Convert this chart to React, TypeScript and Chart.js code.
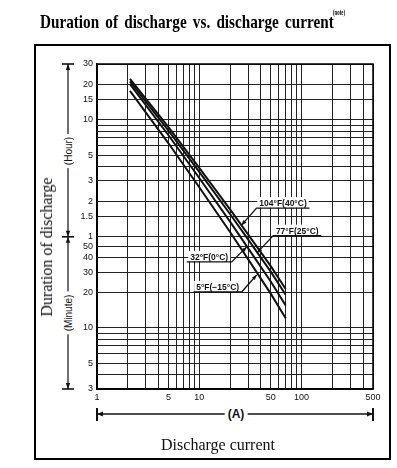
import { useEffect, useRef } from 'react';
import { Chart, registerables } from 'chart.js';

Chart.register(...registerables);

// ---- data (current in A, duration in minutes) ----
const currents = [2.1, 5, 10, 20, 30, 50, 70];
const t104F = [1340, 520, 233, 103, 63, 33.7, 21.5];
const t77F = [1280, 485, 215, 94, 57, 30.2, 19.2];
const t32F = [1210, 443, 191, 81, 48, 24.9, 15.5];
const t5F = [1060, 378, 159, 66, 38.7, 19.6, 12.1];

const seriesNames = ['104°F(40°C)', '77°F(25°C)', '32°F(0°C)', '5°F(−15°C)'];
const seriesValues = [t104F, t77F, t32F, t5F];

// grid / tick values
const xGridValues = [1, 2, 3, 4, 5, 6, 7, 8, 9, 10, 20, 30, 40, 50, 60, 70, 80, 90, 100, 200, 300, 400, 500];
const xTickLabels: Record<number, string> = { 1: '1', 5: '5', 10: '10', 50: '50', 100: '100', 500: '500' };
const yGridMinutes = [3, 4, 5, 6, 7, 8, 9, 10, 20, 30, 40, 50, 60, 90, 120, 180, 240, 300, 360, 420, 480, 540, 600, 900, 1200, 1800];
const yTickLabels: Record<number, string> = {
  3: '3', 5: '5', 10: '10', 20: '20', 30: '30', 40: '40', 50: '50',
  60: '1', 90: '1.5', 120: '2', 180: '3', 300: '5', 600: '10', 900: '15', 1200: '20', 1800: '30',
};
const hourBoundaryMinutes = 60;

// where each label's leader arrow touches its curve (current A, minutes)
const labelTipCurrent = [25.9, 36.9, 29.1, 36.4];
const labelTipMinutes = [75.5, 43.9, 49.2, 28.3];

// label geometry (pixels, relative to the arrow tip)
const labelLayout = [
  { dx: 15, dy: -17, len: 53, dir: 1 },
  { dx: 16, dy: -17, len: 48, dir: 1 },
  { dx: -15, dy: 15, len: 45, dir: -1 },
  { dx: -15, dy: 17, len: 48, dir: -1 },
];

function arrowHead(ctx: CanvasRenderingContext2D, fx: number, fy: number, tx: number, ty: number, len: number, half: number) {
  const a = Math.atan2(ty - fy, tx - fx);
  const c = Math.cos(a), s = Math.sin(a);
  ctx.beginPath();
  ctx.moveTo(tx, ty);
  ctx.lineTo(tx - len * c + half * s, ty - len * s - half * c);
  ctx.lineTo(tx - len * c - half * s, ty - len * s + half * c);
  ctx.closePath();
  ctx.fill();
}

const decorPlugin = {
  id: 'decor',
  afterDatasetsDraw(chart: any) {
    const { ctx, chartArea: ca, scales } = chart;
    const xs = scales.x, ys = scales.y;
    ctx.save();
    // plot border
    ctx.strokeStyle = '#000';
    ctx.lineWidth = 1.5;
    ctx.strokeRect(ca.left, ca.top, ca.right - ca.left, ca.bottom - ca.top);

    // temperature labels
    ctx.font = 'bold 8.5px "Liberation Sans", Arial, sans-serif';
    labelLayout.forEach((L, i) => {
      const tx = xs.getPixelForValue(labelTipCurrent[i]);
      const ty = ys.getPixelForValue(labelTipMinutes[i]);
      const ex = tx + L.dx, ey = ty + L.dy;
      const x2 = ex + L.dir * L.len;
      const cx = (ex + x2) / 2;
      const w = ctx.measureText(seriesNames[i]).width;
      ctx.fillStyle = '#fff';
      ctx.fillRect(cx - w / 2 - 2, ey - 11, w + 4, 10.5);
      ctx.fillStyle = '#111';
      ctx.textAlign = 'center';
      ctx.textBaseline = 'alphabetic';
      ctx.fillText(seriesNames[i], cx, ey - 2);
      ctx.strokeStyle = '#111';
      ctx.lineWidth = 1.3;
      ctx.beginPath();
      ctx.moveTo(x2, ey);
      ctx.lineTo(ex, ey);
      ctx.lineTo(tx, ty);
      ctx.stroke();
      arrowHead(ctx, ex, ey, tx, ty, 5, 2);
    });
    ctx.restore();
  },
  afterDraw(chart: any) {
    const { ctx, chartArea: ca, scales } = chart;
    const ys = scales.y;
    ctx.save();
    ctx.strokeStyle = '#111';
    ctx.fillStyle = '#111';
    // vertical Hour / Minute arrows
    const ax = ca.left - 29;
    const yMid = ys.getPixelForValue(hourBoundaryMinutes);
    ctx.lineWidth = 1.2;
    ctx.beginPath();
    ctx.moveTo(ax, ca.top);
    ctx.lineTo(ax, ca.bottom);
    ctx.stroke();
    ctx.lineWidth = 1.6;
    [ca.top, yMid, ca.bottom].forEach((yy: number) => {
      ctx.beginPath();
      ctx.moveTo(ax - 6, yy);
      ctx.lineTo(ax + 6, yy);
      ctx.stroke();
    });
    arrowHead(ctx, ax, ca.top + 10, ax, ca.top, 6, 2.2);
    arrowHead(ctx, ax, yMid - 10, ax, yMid, 6, 2.2);
    arrowHead(ctx, ax, yMid + 10, ax, yMid, 6, 2.2);
    arrowHead(ctx, ax, ca.bottom - 10, ax, ca.bottom, 6, 2.2);

    // horizontal (A) arrow
    const hy = ca.bottom + 25;
    ctx.lineWidth = 1.5;
    ctx.beginPath();
    ctx.moveTo(ca.left, hy);
    ctx.lineTo(ca.right, hy);
    ctx.stroke();
    ctx.lineWidth = 2;
    [ca.left, ca.right].forEach((xx: number) => {
      ctx.beginPath();
      ctx.moveTo(xx, hy - 6);
      ctx.lineTo(xx, hy + 7);
      ctx.stroke();
    });
    arrowHead(ctx, ca.left + 10, hy, ca.left, hy, 6, 2.5);
    arrowHead(ctx, ca.right - 10, hy, ca.right, hy, 6, 2.5);
    ctx.restore();
  },
};

const tickFont = { family: '"Liberation Sans", Arial, sans-serif', size: 9 };

export default function App() {
  const ref = useRef<HTMLCanvasElement>(null);

  useEffect(() => {
    const chart = new Chart(ref.current as HTMLCanvasElement, {
      type: 'line',
      data: {
        datasets: seriesValues.map((vals, i) => ({
          label: seriesNames[i],
          data: currents.map((c, j) => ({ x: c, y: vals[j] })),
          borderColor: '#111',
          borderWidth: 2,
          pointRadius: 0,
          tension: 0,
          fill: false,
        })),
      },
      options: {
        responsive: false,
        animation: false,
        devicePixelRatio: 1,
        layout: { autoPadding: false, padding: { left: 67, top: 64, right: 24, bottom: 63 } },
        plugins: { legend: { display: false }, tooltip: { enabled: false }, title: { display: false } },
        scales: {
          x: {
            type: 'logarithmic',
            min: 1,
            max: 500,
            afterBuildTicks: (scale: any) => {
              scale.ticks = xGridValues.map((v) => ({ value: v }));
            },
            afterFit: (scale: any) => {
              scale.height = 16;
              scale.paddingLeft = 0;
              scale.paddingRight = 0;
            },
            grid: { color: '#222', lineWidth: 1, drawTicks: false },
            border: { display: true, color: '#000', width: 1.5 },
            ticks: {
              autoSkip: false,
              maxRotation: 0,
              padding: 3,
              color: '#111',
              font: tickFont,
              callback: (v: any) => xTickLabels[Number(v)] ?? '',
            },
          },
          y: {
            type: 'logarithmic',
            min: 3,
            max: 1800,
            afterBuildTicks: (scale: any) => {
              scale.ticks = yGridMinutes.map((v) => ({ value: v }));
            },
            afterFit: (scale: any) => {
              scale.width = 30;
              scale.paddingTop = 0;
              scale.paddingBottom = 0;
            },
            grid: { color: '#222', lineWidth: 1, drawTicks: false },
            border: { display: true, color: '#000', width: 1.5 },
            ticks: {
              autoSkip: false,
              padding: 4,
              color: '#111',
              font: tickFont,
              callback: (v: any) => yTickLabels[Number(v)] ?? '',
            },
          },
        },
      },
      plugins: [decorPlugin],
    } as any);
    return () => chart.destroy();
  }, []);

  const serif = '"Liberation Serif", "Times New Roman", serif';
  const sans = '"Liberation Sans", Arial, sans-serif';

  return (
    <div style={{ position: 'absolute', left: 0, top: 0, width: 397, height: 468, background: '#fff', overflow: 'hidden' }}>
      <div
        style={{
          position: 'absolute', left: 34, top: 44, width: 357, height: 416,
          border: '2px solid #000', boxSizing: 'border-box',
        }}
      />
      <canvas ref={ref} width={397} height={468} style={{ position: 'absolute', left: 0, top: 0, width: 397, height: 468 }} />
      <div
        style={{
          position: 'absolute', left: 40, top: 12, whiteSpace: 'nowrap',
          font: `bold 19px/19px ${serif}`, wordSpacing: '3px', color: '#000',
          transform: 'scaleX(0.8)', transformOrigin: '0 0',
        }}
      >
        Duration of discharge vs. discharge current
      </div>
      <div
        style={{
          position: 'absolute', left: 333, top: 9, whiteSpace: 'nowrap',
          font: `bold 8px/8px ${serif}`, color: '#000',
          transform: 'scaleX(0.6)', transformOrigin: '0 0',
        }}
      >
        (note)
      </div>
      <div
        style={{
          position: 'absolute', left: 47, top: 247, whiteSpace: 'nowrap',
          font: `16px/18px ${serif}`, color: '#111',
          transform: 'translate(-50%, -50%) rotate(-90deg)',
        }}
      >
        Duration of discharge
      </div>
      <div
        style={{
          position: 'absolute', left: 68, top: 150.5, whiteSpace: 'nowrap',
          font: `10px/11px ${sans}`, color: '#111', background: '#fff', padding: '0 3px',
          transform: 'translate(-50%, -50%) rotate(-90deg)',
        }}
      >
        (Hour)
      </div>
      <div
        style={{
          position: 'absolute', left: 68, top: 313, whiteSpace: 'nowrap',
          font: `10px/11px ${sans}`, color: '#111', background: '#fff', padding: '0 3px',
          transform: 'translate(-50%, -50%) rotate(-90deg)',
        }}
      >
        (Minute)
      </div>
      <div
        style={{
          position: 'absolute', left: 236, top: 414, whiteSpace: 'nowrap',
          font: `bold 12px/14px ${sans}`, color: '#111', background: '#fff', padding: '0 3px',
          transform: 'translate(-50%, -50%)',
        }}
      >
        (A)
      </div>
      <div
        style={{
          position: 'absolute', left: 218, top: 436, whiteSpace: 'nowrap',
          font: `16px/18px ${serif}`, color: '#111',
          transform: 'translateX(-50%)',
        }}
      >
        Discharge current
      </div>
    </div>
  );
}
